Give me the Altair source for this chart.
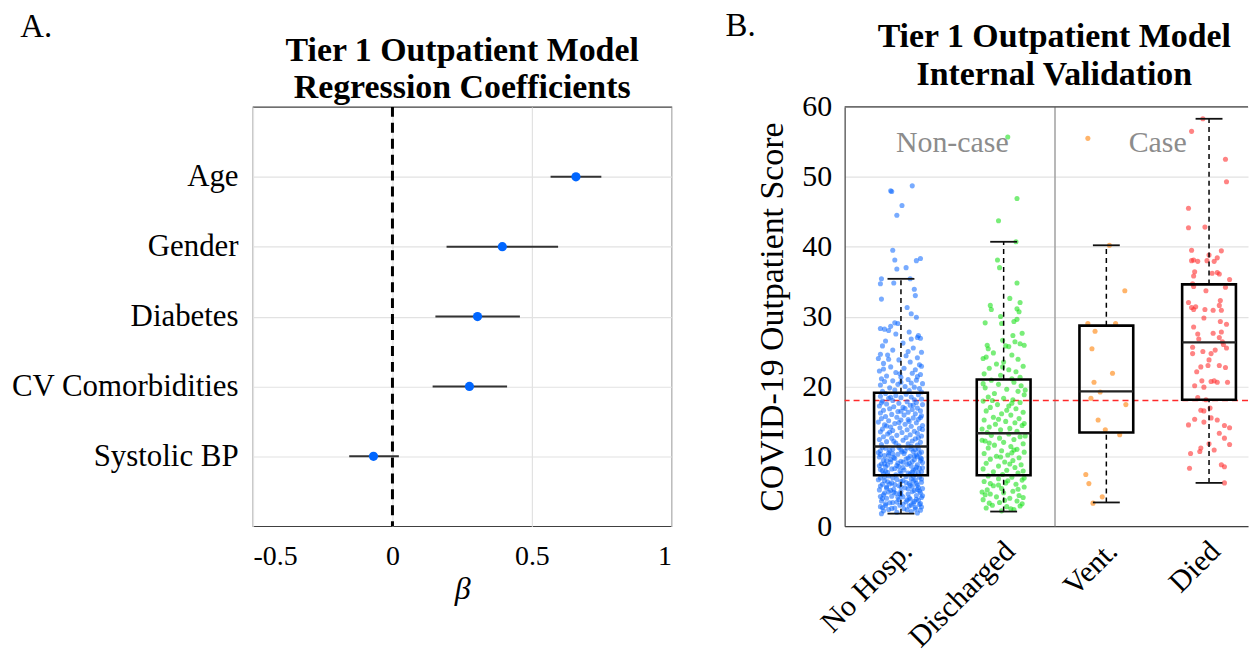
import json
import altair as alt
import pandas as pd

FONT = "Liberation Serif"

# ---------------- Panel A data ----------------
variables = ["Age", "Gender", "Diabetes", "CV Comorbidities", "Systolic BP"]
beta = [0.658, 0.394, 0.305, 0.276, -0.068]
ci_low = [0.567, 0.194, 0.154, 0.144, -0.155]
ci_high = [0.749, 0.594, 0.457, 0.411, 0.023]
beta_ticks = [-0.5, 0, 0.5, 1]
zero_ref = [0]

# ---------------- Panel B data ----------------
groups = ["No Hosp.", "Discharged", "Vent.", "Died"]
group_pos = [1, 2, 3, 4]
group_colors = ["#0a66ff", "#14e014", "#ff7f00", "#ff3030"]
group_opacity = [0.55, 0.6, 0.85, 0.5]
box_q1 = [7.3, 7.3, 13.4, 18.1]
box_median = [11.4, 13.3, 19.3, 26.3]
box_q3 = [19.1, 21.0, 28.7, 34.6]
whisker_low = [1.8, 2.1, 3.4, 6.2]
whisker_high = [35.4, 40.7, 40.2, 58.3]
score_ticks = [0, 10, 20, 30, 40, 50, 60]
threshold = [18]
divider = [2.5]
regions = ["Non-case", "Case"]
region_pos = [1.5, 3.5]
region_score = [54.8, 54.8]

# (score, horizontal jitter in category units)
nohosp_points = [
    (47.9, -0.09), (48.7, 0.11), (45.9, 0.01), (44.5, -0.04), (48.0, -0.10), (39.5, -0.08), (38.1, -0.06),
    (38.3, 0.19), (38.0, 0.15), (36.8, -0.04), (37.0, 0.05), (35.4, -0.19), (34.7, -0.20),
    (34.8, -0.07), (35.4, 0.09), (33.9, 0.13), (33.0, 0.14), (32.5, -0.19), (31.3, 0.06),
    (30.4, 0.10), (29.9, 0.15), (29.1, -0.06), (28.3, -0.20), (28.0, -0.12), (28.2, -0.16),
    (27.3, 0.17), (27.0, 0.16), (26.9, 0.19), (29.0, -0.03), (28.6, -0.10), (27.8, 0.08),
    (26.5, -0.15), (26.2, 0.02), (25.8, -0.18), (25.5, 0.12), (25.2, -0.08), (24.9, 0.20),
    (24.6, -0.20), (24.5, -0.13), (24.4, 0.05), (24.1, 0.16), (23.8, -0.02), (23.5, 0.09),
    (23.3, -0.17), (23.1, 0.18), (22.8, -0.10), (22.6, 0.03), (22.4, 0.14), (22.2, -0.21),
    (22.0, -0.05), (21.9, 0.11), (21.7, 0.19), (21.5, -0.14), (21.3, 0.00), (21.1, -0.19),
    (21.0, 0.07), (20.9, 0.15), (20.8, -0.08), (20.7, -0.16), (20.5, 0.10), (20.4, 0.21),
    (20.3, -0.03), (20.2, -0.20), (20.0, 0.04), (19.9, 0.13), (19.8, -0.11), (19.7, 0.18),
    (19.5, -0.06), (19.4, 0.08), (19.3, -0.18), (19.2, 0.20), (25.0, 0.07), (23.9, -0.12),
    (22.9, 0.20), (21.8, -0.01), (26.8, 0.10), (27.5, -0.05), (24.0, -0.22), (20.6, 0.00),
    (21.4, 0.16), (22.5, -0.17),
    (19.0, -0.15), (18.9, 0.05), (18.8, 0.17), (18.7, -0.05), (18.6, -0.20), (18.5, 0.10),
    (18.4, 0.00), (18.3, -0.12), (18.2, 0.20), (18.1, 0.13), (18.0, -0.08), (17.9, -0.18),
    (17.8, 0.06), (17.7, 0.15), (17.6, -0.02), (17.5, -0.14), (17.4, 0.21), (17.3, 0.09),
    (17.2, -0.21), (17.1, -0.07), (17.0, 0.02), (16.9, 0.16), (16.8, -0.11), (16.7, 0.11),
    (16.6, -0.17), (16.5, 0.19), (16.4, -0.03), (16.3, 0.07), (16.2, -0.20), (16.1, 0.14),
    (16.0, -0.09), (15.9, 0.03), (15.8, 0.20), (15.7, -0.15), (15.6, -0.04), (15.5, 0.12),
    (15.4, -0.19), (15.3, 0.17), (15.2, 0.00), (15.1, -0.12), (15.0, 0.08), (14.9, -0.22),
    (14.8, 0.15), (14.7, -0.06), (14.6, 0.04), (14.5, -0.16), (14.4, 0.21), (14.3, 0.10),
    (14.2, -0.10), (14.1, -0.01), (14.0, 0.18), (13.9, -0.18), (13.8, 0.06), (13.7, -0.08),
    (13.6, 0.13), (13.5, -0.20), (13.4, 0.01), (13.3, 0.16), (13.2, -0.13), (13.1, 0.09),
    (13.0, -0.04), (12.9, 0.20), (12.8, -0.17), (12.7, 0.05), (12.6, -0.09), (12.5, 0.14),
    (12.4, -0.21), (12.3, 0.02), (12.2, 0.11), (12.1, -0.14), (12.0, 0.19), (11.9, -0.05),
    (11.8, 0.07), (11.7, -0.19), (11.6, 0.16), (11.5, -0.02), (11.45, 0.10), (13.45, -0.11),
    (15.55, 0.19), (16.45, 0.00), (17.65, -0.19), (14.35, -0.14), (12.65, 0.17), (18.45, -0.10),
    (15.25, 0.07), (13.85, 0.21), (16.85, 0.04), (14.85, -0.02), (12.15, -0.07), (17.35, 0.12),
    (11.3, -0.18), (11.2, 0.06), (11.1, 0.17), (11.0, -0.08), (10.9, 0.00), (10.8, -0.20),
    (10.7, 0.12), (10.6, 0.20), (10.5, -0.12), (10.4, 0.03), (10.3, -0.03), (10.2, 0.15),
    (10.1, -0.16), (10.0, 0.09), (9.9, -0.21), (9.8, 0.19), (9.7, -0.06), (9.6, 0.05),
    (9.5, 0.13), (9.4, -0.14), (9.3, 0.00), (9.2, -0.10), (9.1, 0.21), (9.0, 0.08),
    (8.9, -0.19), (8.8, 0.16), (8.7, -0.04), (8.6, 0.10), (8.5, -0.15), (8.4, 0.02),
    (8.3, 0.18), (8.2, -0.09), (8.1, -0.20), (8.0, 0.12), (7.9, -0.01), (7.8, 0.20),
    (7.7, -0.13), (7.6, 0.07), (7.5, -0.17), (7.4, 0.14), (7.35, -0.05), (11.25, -0.02),
    (11.05, 0.10), (10.85, -0.11), (10.65, 0.01), (10.45, 0.18), (10.25, -0.20), (10.05, 0.13),
    (9.85, -0.07), (9.65, 0.20), (9.45, -0.17), (9.25, 0.11), (9.05, -0.03), (8.85, 0.06),
    (8.65, -0.21), (8.45, 0.15), (8.25, -0.06), (8.05, 0.03), (7.85, -0.15), (7.65, 0.17),
    (7.45, 0.09), (11.15, -0.15), (10.75, 0.04), (10.35, -0.08), (9.95, 0.16), (9.55, -0.10),
    (9.15, 0.02), (8.75, -0.13), (8.35, 0.21), (7.95, -0.18), (7.55, 0.00), (10.95, 0.14),
    (10.15, -0.12), (9.35, 0.19), (8.55, -0.02), (7.75, 0.11), (10.55, -0.22), (9.75, 0.07),
    (8.95, -0.16), (8.15, 0.14),
    (7.2, -0.12), (7.1, 0.05), (7.0, 0.18), (6.9, -0.20), (6.8, 0.10), (6.7, -0.04),
    (6.6, 0.14), (6.5, -0.16), (6.4, 0.00), (6.3, 0.20), (6.2, -0.09), (6.1, 0.08),
    (6.0, -0.18), (5.9, 0.16), (5.8, -0.02), (5.7, 0.11), (5.6, -0.14), (5.5, 0.04),
    (5.4, 0.21), (5.3, -0.07), (5.2, -0.21), (5.1, 0.13), (5.0, 0.00), (4.9, -0.12),
    (4.8, 0.19), (4.7, -0.05), (4.6, 0.07), (4.5, -0.17), (4.4, 0.15), (4.3, -0.09),
    (4.2, 0.02), (4.1, 0.20), (4.0, -0.14), (3.9, 0.09), (3.8, -0.02), (3.7, 0.17),
    (3.6, -0.19), (3.5, 0.05), (3.4, -0.08), (3.3, 0.12), (3.2, -0.15), (3.1, 0.18),
    (3.0, -0.01), (2.9, 0.08), (2.8, -0.20), (2.7, 0.14), (2.6, -0.06), (2.5, 0.03),
    (2.4, -0.12), (2.3, 0.19), (2.2, -0.17), (2.1, 0.10), (2.0, -0.04), (1.9, 0.16),
    (1.8, -0.19), (7.15, 0.12), (6.95, -0.08), (6.75, 0.20), (6.55, 0.02), (6.35, -0.13),
    (6.15, 0.15), (5.95, -0.06), (5.75, -0.20), (5.55, 0.17), (5.35, 0.07), (5.15, -0.10),
    (4.95, 0.11), (4.75, -0.16), (4.55, 0.00), (4.35, 0.21), (4.15, -0.03), (3.95, -0.18),
    (3.75, 0.06), (3.55, 0.13), (3.35, -0.11), (3.15, 0.02), (2.95, -0.15), (2.75, 0.20),
    (2.55, -0.09), (2.35, 0.06), (7.05, -0.16), (6.65, -0.22), (6.25, 0.05), (5.85, 0.09),
    (5.45, -0.14), (5.05, 0.18), (4.65, -0.01), (4.25, -0.20), (3.85, 0.15), (3.45, -0.04),
    (3.05, 0.10), (2.65, -0.18), (6.45, 0.12), (5.65, 0.00), (4.85, -0.07), (4.05, 0.08),
    (3.25, 0.19), (2.45, 0.14), (6.05, -0.11), (5.25, 0.16),
]

discharged_points = [
    (55.7, 0.04), (46.9, 0.13), (43.7, -0.05), (40.7, 0.12), (38.1, -0.06), (37.0, -0.04),
    (34.8, 0.13), (32.6, 0.06), (32.0, 0.16), (31.6, -0.13), (31.0, -0.12), (31.1, 0.13),
    (30.7, 0.15), (29.1, -0.18), (30.0, -0.03), (29.0, -0.02), (29.3, 0.10), (29.6, 0.13),
    (27.6, 0.18), (27.3, 0.09), (26.6, -0.01), (26.4, 0.11), (26.1, 0.16), (25.9, 0.20),
    (25.9, -0.16), (25.4, -0.15), (25.8, 0.02), (25.7, 0.05),
    (24.8, -0.10), (24.5, 0.08), (24.2, -0.17), (23.9, 0.14), (23.5, 0.00), (23.2, -0.07),
    (22.9, 0.19), (22.6, -0.14), (22.4, 0.05), (22.1, 0.12), (21.8, -0.19), (21.6, -0.03),
    (21.3, 0.16), (21.1, 0.08), (24.0, -0.20), (22.8, -0.01),
    (20.9, -0.12), (20.6, 0.10), (20.3, -0.05), (20.1, 0.17), (19.8, -0.18), (19.6, 0.03),
    (19.3, 0.14), (19.0, -0.09), (18.8, 0.20), (18.5, -0.15), (18.3, 0.00), (18.1, 0.09),
    (17.9, -0.20), (17.7, 0.16), (17.4, -0.06), (17.2, 0.05), (17.0, -0.13), (16.8, 0.12),
    (16.5, -0.17), (16.3, 0.19), (16.1, -0.02), (15.9, 0.07), (15.6, -0.10), (15.4, 0.15),
    (15.2, -0.19), (15.0, 0.02), (14.8, 0.11), (14.6, -0.08), (14.4, 0.18), (14.2, -0.14),
    (14.0, 0.06), (13.8, -0.03), (13.6, 0.13), (13.4, -0.16), (19.5, 0.21), (18.0, -0.11),
    (16.6, 0.03), (15.3, -0.05), (14.7, 0.20), (17.6, 0.08), (20.4, -0.20), (13.9, -0.21),
    (13.2, 0.05), (13.0, -0.12), (12.8, 0.16), (12.6, -0.04), (12.4, 0.10), (12.2, -0.18),
    (12.0, 0.00), (11.8, 0.19), (11.6, -0.09), (11.4, 0.07), (11.2, -0.15), (11.0, 0.13),
    (10.8, -0.02), (10.6, 0.20), (10.4, -0.19), (10.2, 0.04), (10.0, -0.07), (9.8, 0.15),
    (9.6, -0.13), (9.4, 0.09), (9.2, 0.01), (9.0, -0.17), (8.8, 0.17), (8.6, -0.05),
    (8.4, 0.11), (8.2, -0.20), (8.0, 0.03), (7.8, -0.10), (7.6, 0.14), (7.4, -0.01),
    (12.9, 0.21), (11.9, -0.14), (10.9, 0.10), (9.9, -0.03), (8.9, 0.06), (7.9, 0.19),
    (12.3, -0.21), (10.5, 0.08),
    (7.2, -0.15), (7.0, 0.08), (6.8, -0.05), (6.6, 0.18), (6.4, -0.19), (6.2, 0.02),
    (6.0, 0.12), (5.8, -0.10), (5.6, 0.20), (5.4, -0.02), (5.2, -0.16), (5.0, 0.09),
    (4.8, 0.00), (4.6, -0.13), (4.4, 0.15), (4.2, -0.07), (4.0, 0.06), (3.8, -0.20),
    (3.6, 0.13), (3.4, -0.04), (3.2, 0.18), (3.0, -0.11), (2.8, 0.03), (2.6, -0.17),
    (2.4, 0.10), (2.2, -0.02), (6.9, 0.20), (6.1, -0.13), (5.3, 0.14), (4.5, -0.18),
    (3.7, 0.01), (2.9, 0.16), (5.9, -0.05), (4.1, 0.19), (3.3, -0.14), (6.5, 0.04),
    (4.9, -0.21), (2.5, 0.07),
]

vent_points = [
    (55.5, -0.18), (40.2, 0.03), (33.7, 0.18), (29.0, -0.18), (29.0, 0.09), (27.9, -0.11),
    (25.4, -0.14), (21.9, 0.06), (20.6, -0.12), (18.3, -0.15), (19.2, -0.06), (17.4, 0.19),
    (15.2, -0.08), (13.8, -0.01), (13.1, 0.13), (7.4, -0.20), (6.1, -0.17), (4.2, -0.04),
    (3.3, -0.13),
]

died_points = [
    (58.3, -0.06), (56.5, -0.17), (52.5, 0.16), (49.3, 0.17), (45.5, -0.20), (42.7, -0.20),
    (42.8, -0.04), (39.5, -0.17), (39.4, 0.12), (38.8, 0.00), (38.4, 0.08), (38.0, -0.17),
    (38.1, -0.15), (37.9, -0.11), (38.0, -0.02), (37.9, 0.05), (36.4, -0.14), (35.8, -0.15),
    (36.2, 0.03), (36.3, 0.08), (36.1, 0.10), (35.3, 0.20), (34.7, -0.16), (34.3, -0.15),
    (34.2, 0.16), (33.7, -0.03), (32.3, 0.11), (32.0, -0.20), (31.6, 0.10), (31.3, -0.17),
    (31.4, -0.13), (31.0, -0.15), (31.0, -0.04), (30.9, 0.04), (30.9, 0.12), (29.8, -0.05),
    (29.3, 0.11), (28.9, 0.17), (28.5, -0.15), (27.5, -0.11), (26.8, -0.10), (27.6, 0.04),
    (27.8, 0.12), (27.0, 0.10), (26.0, 0.14), (26.4, 0.13), (25.6, -0.16), (24.7, -0.16),
    (25.0, -0.06), (24.7, 0.02), (25.2, 0.06), (23.8, 0.00), (25.5, 0.17), (23.0, 0.10),
    (22.8, -0.08), (23.0, -0.01), (22.7, 0.16), (22.1, -0.12), (20.8, -0.07), (20.8, 0.05),
    (20.6, 0.08), (20.7, 0.02), (20.6, 0.18), (20.1, -0.14), (19.9, -0.05), (18.4, -0.11),
    (18.1, -0.03), (16.6, -0.08), (16.5, -0.05), (16.9, 0.01), (15.3, -0.14), (14.5, -0.20),
    (14.9, -0.05), (15.5, 0.02), (15.2, 0.08), (14.4, 0.15), (14.1, 0.20), (13.3, 0.10),
    (12.6, 0.15), (11.7, 0.20), (11.8, 0.00), (11.2, -0.08), (10.7, -0.09), (10.9, 0.05),
    (10.4, -0.18), (8.3, -0.19), (8.8, 0.12), (8.5, 0.15), (6.2, 0.15),
]

# ---------------- Tables ----------------
coef_df = pd.DataFrame({"variable": variables, "beta": beta, "lo": ci_low, "hi": ci_high})
zero_df = pd.DataFrame({"ref": zero_ref})

point_rows = []
for g, p, pts in zip(groups, group_pos, [nohosp_points, discharged_points, vent_points, died_points]):
    for score, jit in pts:
        point_rows.append({"group": g, "score": score, "xpos": p + jit})
points_df = pd.DataFrame(point_rows)

box_df = pd.DataFrame({
    "group": groups, "pos": group_pos, "q1": box_q1, "median": box_median,
    "q3": box_q3, "lo": whisker_low, "hi": whisker_high,
})
thr_df = pd.DataFrame({"thr": threshold})
div_df = pd.DataFrame({"div": divider})
top_df = pd.DataFrame({"top": [max(score_ticks)]})
region_df = pd.DataFrame({"region": regions, "x": region_pos, "y": region_score})

GRID = "#e2e2e2"
FRAME = "#404040"

# ---------------- Panel A ----------------
xA_scale = alt.Scale(domain=[-0.5, 1], nice=False, zero=False)
xA_axis = alt.Axis(
    values=beta_ticks,
    labelExpr="datum.value < 0 ? '-' + format(-datum.value, '~g') : format(datum.value, '~g')",
    title="β", titleFontStyle="italic", titleFontWeight="normal", titleFontSize=32,
    titlePadding=4, labelFontSize=28, labelPadding=16, ticks=False, domain=False,
    grid=True, gridColor=GRID, gridWidth=1.2,
)
yA_scale = alt.Scale(type="point", padding=1, domain=variables)
yA_axis = alt.Axis(title=None, labelFontSize=31, labelPadding=15, labelLimit=0, ticks=False,
                   domain=False, grid=True, gridColor=GRID, gridWidth=1.2)

zero_line = alt.Chart(zero_df).mark_rule(color="black", strokeWidth=3, strokeDash=[10, 6]).encode(
    x=alt.X("ref:Q", scale=xA_scale, axis=xA_axis)
)
ci_bars = alt.Chart(coef_df).mark_rule(color="#333333", strokeWidth=2).encode(
    x=alt.X("lo:Q", scale=xA_scale, axis=xA_axis),
    x2="hi:Q",
    y=alt.Y("variable:N", scale=yA_scale, axis=yA_axis),
)
coef_dots = alt.Chart(coef_df).mark_circle(size=85, color="#0066ff", opacity=1).encode(
    x=alt.X("beta:Q", scale=xA_scale, axis=xA_axis),
    y=alt.Y("variable:N", scale=yA_scale, axis=yA_axis),
)

panel_a = alt.layer(zero_line, ci_bars, coef_dots).properties(
    width=420, height=421,
    title=alt.TitleParams(["Tier 1 Outpatient Model", "Regression Coefficients"],
                          font=FONT, fontSize=34, fontWeight="bold", lineHeight=38,
                          offset=0, anchor="middle", color="black"),
    view=alt.ViewBackground(stroke=FRAME, strokeWidth=1.2),
)

# ---------------- Panel B ----------------
xB_scale = alt.Scale(domain=[0.5, 4.331], nice=False, zero=False)
xB_axis = alt.Axis(
    values=group_pos,
    labelExpr=json.dumps(groups) + "[datum.value - 1]",
    title=None, labelFontSize=30, labelAngle=315, labelAlign="right", labelBaseline="middle",
    labelPadding=20, labelOffset=6, labelOverlap=False, ticks=False, domain=True,
    domainColor=FRAME, domainWidth=1.2, grid=False,
)
yB_scale = alt.Scale(domain=[0, 60], nice=False)
yB_axis = alt.Axis(
    values=score_ticks, title="COVID-19 Outpatient Score", titleFontSize=34,
    titleFontWeight="normal", titlePadding=12, labelFontSize=30, labelPadding=13,
    ticks=False, domain=True, domainColor=FRAME, domainWidth=1.2,
    grid=True, gridColor=GRID, gridWidth=1.2,
)

def xb(field):
    return alt.X(field, scale=xB_scale, axis=xB_axis)

def yb(field):
    return alt.Y(field, scale=yB_scale, axis=yB_axis)

separator = alt.Chart(div_df).mark_rule(color="#a0a0a0", strokeWidth=1.5).encode(x=xb("div:Q"))
thr_line = alt.Chart(thr_df).mark_rule(color="#ff2a2a", strokeWidth=1.6, strokeDash=[6, 4]).encode(
    y=yb("thr:Q")
)
scatter = alt.Chart(points_df).mark_circle(size=26).encode(
    x=xb("xpos:Q"),
    y=yb("score:Q"),
    color=alt.Color("group:N", scale=alt.Scale(domain=groups, range=group_colors), legend=None),
    opacity=alt.Opacity("group:N", scale=alt.Scale(domain=groups, range=group_opacity), legend=None),
)
box_base = alt.Chart(box_df)
whisk_hi = box_base.mark_rule(color="black", strokeWidth=1.5, strokeDash=[5, 4]).encode(
    x=xb("pos:Q"), y=yb("q3:Q"), y2="hi:Q"
)
whisk_lo = box_base.mark_rule(color="black", strokeWidth=1.5, strokeDash=[5, 4]).encode(
    x=xb("pos:Q"), y=yb("lo:Q"), y2="q1:Q"
)
boxes = box_base.mark_bar(size=54, fill="transparent", stroke="black", strokeWidth=2.6).encode(
    x=xb("pos:Q"), y=yb("q1:Q"), y2="q3:Q"
)
medians = box_base.mark_tick(orient="horizontal", size=54, thickness=2.4, color="#222222",
                             opacity=1).encode(x=xb("pos:Q"), y=yb("median:Q"))
cap_hi = box_base.mark_tick(orient="horizontal", size=27, thickness=1.8, color="#111111",
                            opacity=1).encode(x=xb("pos:Q"), y=yb("hi:Q"))
cap_lo = box_base.mark_tick(orient="horizontal", size=27, thickness=1.8, color="#111111",
                            opacity=1).encode(x=xb("pos:Q"), y=yb("lo:Q"))
region_text = alt.Chart(region_df).mark_text(
    font=FONT, fontSize=30, color="#8c8c8c", baseline="middle", align="center"
).encode(x=xb("x:Q"), y=yb("y:Q"), text="region:N")
top_border = alt.Chart(top_df).mark_rule(color=FRAME, strokeWidth=1.2).encode(y=yb("top:Q"))

panel_b = alt.layer(
    separator, thr_line, scatter, whisk_hi, whisk_lo, boxes, medians, cap_hi, cap_lo,
    region_text, top_border,
).properties(
    width=405, height=421,
    title=alt.TitleParams(["Tier 1 Outpatient Model", "Internal Validation"],
                          font=FONT, fontSize=34, fontWeight="bold", lineHeight=38,
                          offset=0, anchor="middle", color="black", dx=8),
    view=alt.ViewBackground(stroke="transparent"),
)

wrap_a = alt.hconcat(panel_a).properties(
    title=alt.TitleParams("A.", font=FONT, fontSize=33, fontWeight="normal", anchor="start",
                          offset=-40, dx=10, dy=-29, color="black")
)
wrap_b = alt.hconcat(panel_b).properties(
    title=alt.TitleParams("B.", font=FONT, fontSize=33, fontWeight="normal", anchor="start",
                          offset=-40, dx=-30, dy=-17, color="black")
)

chart = alt.hconcat(wrap_a, wrap_b, spacing=53).properties(
    padding={"left": 2, "top": 0, "right": 0, "bottom": 0}
).configure_axis(
    labelFont=FONT, titleFont=FONT, labelColor="black", titleColor="black"
).configure_title(font=FONT).configure_view(strokeWidth=1.2)

chart.save("out.html", embed_options={"renderer": "svg", "actions": False})
